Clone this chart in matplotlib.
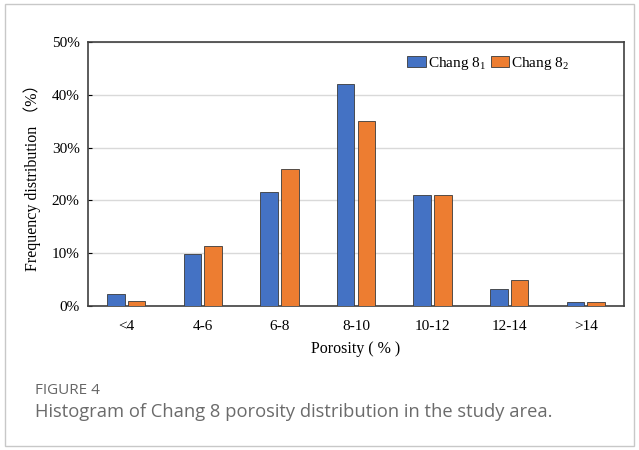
import matplotlib
matplotlib.use("Agg")
import matplotlib.pyplot as plt
import numpy as np
from matplotlib.patches import Rectangle
from matplotlib.ticker import FuncFormatter

plt.rcParams["mathtext.fontset"] = "custom"
plt.rcParams["mathtext.rm"] = "Liberation Serif"
plt.rcParams["mathtext.it"] = "Liberation Serif:italic"

categories = ["<4", "4-6", "6-8", "8-10", "10-12", "12-14", ">14"]
chang81 = [2.3, 9.8, 21.5, 42.0, 21.0, 3.2, 0.8]
chang82 = [1.0, 11.3, 26.0, 35.1, 21.1, 4.9, 0.7]
series_names = ["Chang 8$_{\\rm 1}$", "Chang 8$_{\\rm 2}$"]
yticks = [0, 10, 20, 30, 40, 50]

fig = plt.figure(figsize=(6.39, 4.5), dpi=100)
fig.patch.set_facecolor("white")
fig.add_artist(Rectangle((5/639, 4/450), 629/639, 442/450, transform=fig.transFigure,
                         fill=False, edgecolor="#c8c8c8", linewidth=1.0))

ax = fig.add_axes([88/639, 1-306/450, 536/639, 264/450])
x = np.arange(len(categories))
w = 0.23
off = 0.135
ax.bar(x - off, chang81, w, color="#4472c4", edgecolor="#3a3a3a", linewidth=0.6,
       label=series_names[0], zorder=3)
ax.bar(x + off, chang82, w, color="#ed7d31", edgecolor="#3a3a3a", linewidth=0.6,
       label=series_names[1], zorder=3)
ax.set_xlim(-0.5, len(categories) - 0.5)
ax.set_ylim(0, 50)
ax.set_yticks(yticks)
ax.yaxis.set_major_formatter(FuncFormatter(lambda v, p: f"{int(v)}%"))
ax.set_xticks(x)
ax.set_xticklabels(categories)
ax.grid(axis="y", color="#d9d9d9", linewidth=1.0, zorder=0)
ax.tick_params(axis="x", length=0, pad=10)
ax.tick_params(axis="y", direction="in", length=3, pad=6)
serif = "Liberation Serif"
for lab in ax.get_xticklabels() + ax.get_yticklabels():
    lab.set_fontfamily(serif)
    lab.set_fontsize(11)
for s in ax.spines.values():
    s.set_color("#404040")
    s.set_linewidth(1.2)
ax.set_xlabel("Porosity ( % )", fontfamily=serif, fontsize=11.5, labelpad=6)
ax.set_ylabel("Frequency distribution （%）", fontfamily=["Liberation Serif", "Noto Sans CJK SC"],
              fontsize=11.5, labelpad=8)
leg = ax.legend(loc="upper right", bbox_to_anchor=(0.915, 0.985), ncol=2, frameon=False,
                prop={"family": serif, "size": 11}, handlelength=1.2, handleheight=0.75,
                columnspacing=0.3, handletextpad=0.15, borderaxespad=0.2)

fig.text(35/639, 1-390/450, "FIGURE 4", fontfamily="Open Sans", fontsize=11,
         color="#666666", va="center", ha="left")
fig.text(35/639, 1-412/450, "Histogram of Chang 8 porosity distribution in the study area.",
         fontfamily="Open Sans", fontsize=13.2, color="#6b6b6b", va="center", ha="left")

fig.savefig("out.png", dpi=100, facecolor="white")
